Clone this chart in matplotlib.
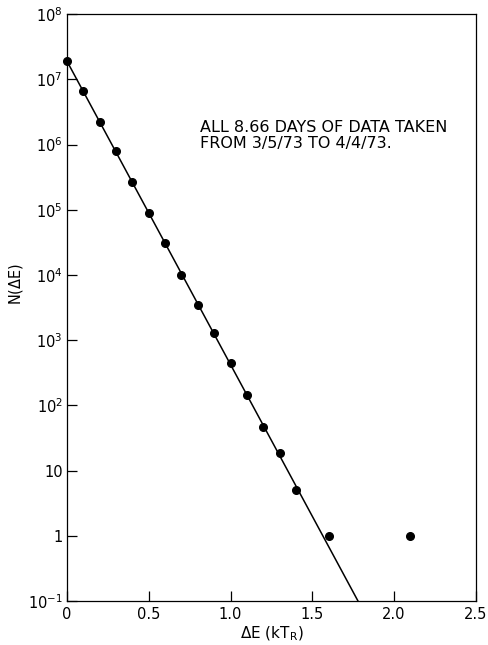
#!/usr/bin/env python
"""Plot the energy-difference distribution N(dE) on a log scale."""

import matplotlib

matplotlib.use("Agg")
import matplotlib.pyplot as plt
from matplotlib.ticker import FixedLocator, NullLocator

delta_e = [0.0, 0.1, 0.2, 0.3, 0.4, 0.5, 0.6, 0.7, 0.8, 0.9,
           1.0, 1.1, 1.2, 1.3, 1.4, 1.6, 2.1]
counts = [1.9e7, 6.6e6, 2.2e6, 7.9e5, 2.7e5, 8.9e4, 3.1e4, 1.0e4, 3.5e3, 1.3e3,
          445, 144, 46, 19, 5.0, 1, 1]

# straight-line (exponential) fit drawn through the points
fit_e = [0.0, 1.78]
fit_n = [1.9e7, 0.1]

y_ticks = [1e-1, 1, 10, 1e2, 1e3, 1e4, 1e5, 1e6, 1e7, 1e8]
y_labels = [r"$10^{-1}$", "1", "10", r"$10^{2}$", r"$10^{3}$", r"$10^{4}$",
            r"$10^{5}$", r"$10^{6}$", r"$10^{7}$", r"$10^{8}$"]
x_ticks = [0, 0.5, 1.0, 1.5, 2.0, 2.5]
x_labels = ["0", "0.5", "1.0", "1.5", "2.0", "2.5"]

plt.rcParams["font.family"] = "DejaVu Sans"
plt.rcParams["mathtext.default"] = "regular"

figure = plt.figure(figsize=(4.89, 6.45), dpi=100)
axis = figure.add_axes([0.137, 0.068, 0.836, 0.910])

axis.plot(fit_e, fit_n, "-k", linewidth=1.1, clip_on=True)
axis.plot(delta_e, counts, "ok", markersize=5.5, clip_on=False)

axis.set_yscale("log")
axis.set_xlim(0, 2.5)
axis.set_ylim(1e-1, 1e8)

axis.yaxis.set_major_locator(FixedLocator(y_ticks))
axis.yaxis.set_minor_locator(NullLocator())
axis.set_yticklabels(y_labels, fontsize=10.5)
axis.set_xticks(x_ticks)
axis.set_xticklabels(x_labels, fontsize=10.5)

axis.tick_params(direction="in", length=7, width=0.9)
axis.tick_params(axis="y", pad=3)
axis.tick_params(axis="x", pad=4)
for spine in axis.spines.values():
    spine.set_linewidth(0.9)

axis.set_xlabel(r"$\Delta$E (kT$_R$)", fontsize=11, labelpad=2)
axis.set_ylabel(r"N($\Delta$E)", fontsize=10.5)
axis.yaxis.set_label_coords(-0.103, 0.54)

axis.text(0.325, 0.793, "ALL 8.66 DAYS OF DATA TAKEN\nFROM 3/5/73 TO 4/4/73.",
          transform=axis.transAxes, fontsize=11.5, va="center", ha="left",
          linespacing=1.05)

figure.savefig("out.png", dpi=100)
